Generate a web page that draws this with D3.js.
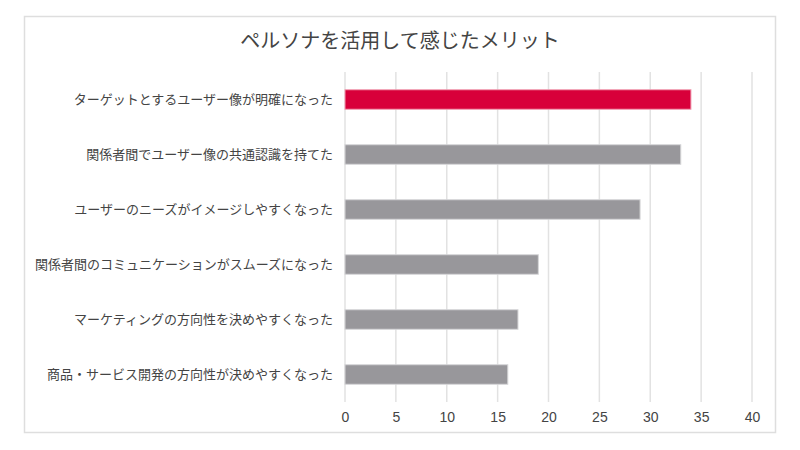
<!DOCTYPE html>
<html>
<head>
<meta charset="utf-8">
<script src="https://cdn.jsdelivr.net/npm/d3@7"></script>
<style>
    body { margin: 0; background: #fff; }
    svg { display: block; font-family: "Noto Sans CJK JP", "Noto Sans", sans-serif; }
</style>
</head>
<body>
<div id="chart"></div>
<script>
// Data
const categories = [
    "ターゲットとするユーザー像が明確になった",
    "関係者間でユーザー像の共通認識を持てた",
    "ユーザーのニーズがイメージしやすくなった",
    "関係者間のコミュニケーションがスムーズになった",
    "マーケティングの方向性を決めやすくなった",
    "商品・サービス開発の方向性が決めやすくなった"
];
const values = [34, 33, 29, 19, 17, 16];
const xTicks = [0, 5, 10, 15, 20, 25, 30, 35, 40];
const highlight = [true, false, false, false, false, false];

const canvas = { w: 800, h: 450 };
const margin = { left: 345, right: 48, top: 72, bottom: 48 };

const svg = d3.select("#chart")
    .append("svg")
    .attr("width", canvas.w)
    .attr("height", canvas.h);

// outer frame
svg.append("rect")
    .attr("x", 24.5).attr("y", 16.5)
    .attr("width", 751).attr("height", 416)
    .attr("fill", "#fff")
    .attr("stroke", "#dedede")
    .attr("stroke-width", 1.5);

svg.append("text")
    .attr("x", 400).attr("y", 48)
    .attr("text-anchor", "middle")
    .attr("font-size", 20)
    .attr("fill", "#444")
    .text("ペルソナを活用して感じたメリット");

const x = d3.scaleLinear()
    .domain([0, 40])
    .range([margin.left, canvas.w - margin.right]);

const y = d3.scaleBand()
    .domain(categories)
    .range([margin.top, canvas.h - margin.bottom])
    .paddingInner(0.645)
    .paddingOuter(0.3225);

// gridlines
svg.append("g")
    .selectAll("line")
    .data(xTicks)
    .join("line")
    .attr("x1", d => x(d)).attr("x2", d => x(d))
    .attr("y1", margin.top).attr("y2", canvas.h - margin.bottom)
    .attr("stroke", "#e2e2e2")
    .attr("stroke-width", 1.5);

// bars
svg.append("g")
    .selectAll("rect")
    .data(values)
    .join("rect")
    .attr("x", x(0))
    .attr("y", (d, i) => y(categories[i]))
    .attr("width", d => x(d) - x(0))
    .attr("height", y.bandwidth())
    .attr("fill", (d, i) => highlight[i] ? "#d8003a" : "#98979b")
    .attr("stroke", (d, i) => highlight[i] ? "#f1a0b4" : "#d6d6d8")
    .attr("stroke-width", 1);

// x axis labels
const xAxis = svg.append("g")
    .attr("transform", `translate(0,${canvas.h - margin.bottom})`)
    .call(d3.axisBottom(x).tickValues(xTicks).tickSize(0).tickPadding(10));
xAxis.select(".domain").remove();
xAxis.selectAll("text")
    .attr("font-size", 14)
    .attr("font-family", "'Liberation Sans', Arial, sans-serif")
    .attr("fill", "#444");

// y axis labels
const yAxis = svg.append("g")
    .attr("transform", `translate(${margin.left},0)`)
    .call(d3.axisLeft(y).tickSize(0).tickPadding(12));
yAxis.select(".domain").remove();
yAxis.selectAll("text")
    .attr("font-size", 13)
    .attr("font-family", "'Noto Sans CJK JP', sans-serif")
    .attr("fill", "#444");
</script>
</body>
</html>
